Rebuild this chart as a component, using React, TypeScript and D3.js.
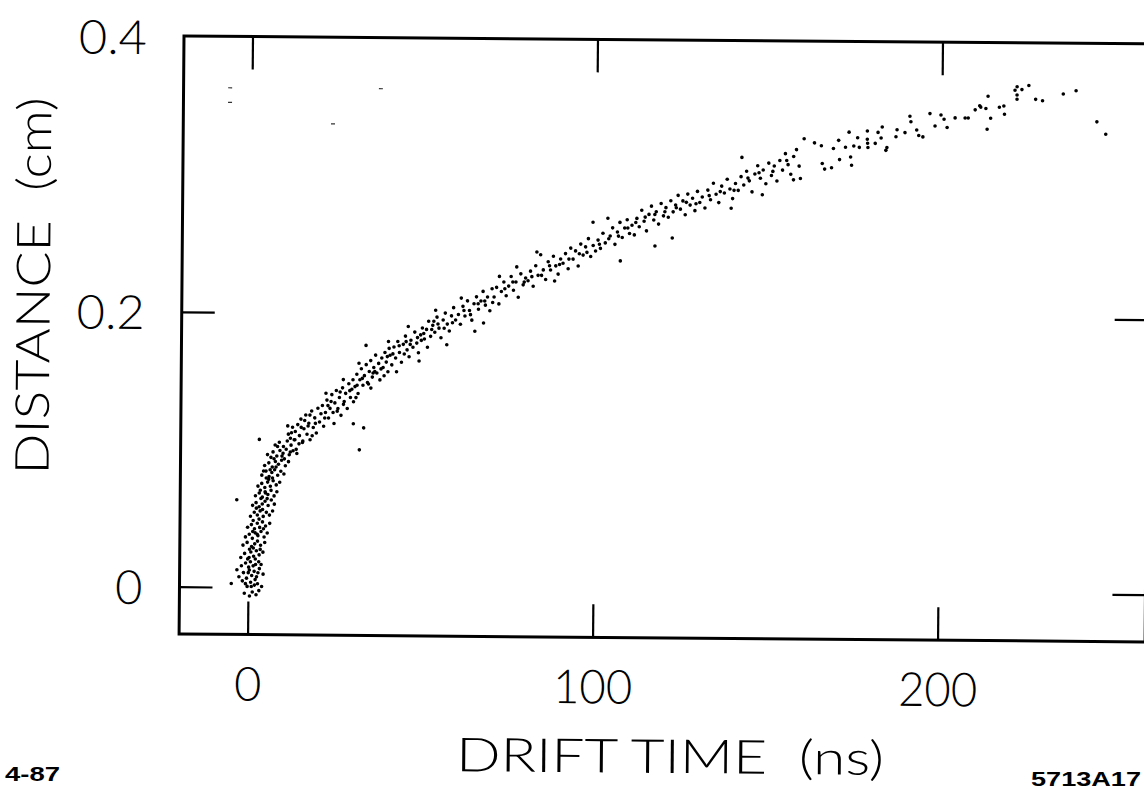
import React from "react";
import * as d3 from "d3";

// Axis ticks and labels
const xTicks = [0, 100, 200];
const xTickLabels = ["0", "100", "200"];
const yTicks = [0, 0.2, 0.4];
const yTickLabels = ["0", "0.2", "0.4"];

// [drift time (ns), distance (cm)] — steep rise near t = 0
const risePoints: [number, number][] = [
  [-1.2,-0.004],[0.3,-0.006],[1.1,-0.003],[2.2,-0.005],[3.0,-0.002],[-0.4,0.001],[1.7,0.002],[0.6,0.004],[2.6,0.003],[-1.8,0.005],[3.8,0.001],
  [-2.8,0.008],[-1.5,0.011],[-0.6,0.007],[0.2,0.013],[0.9,0.009],[1.6,0.012],[2.3,0.008],[3.1,0.014],[4.2,0.01],[-2.1,0.016],[-0.9,0.018],[0.5,0.019],[1.3,0.016],[2.0,0.017],[2.9,0.019],[3.6,0.017],[-3.4,0.013],[0.0,0.015],
  [-2.3,0.022],[-1.2,0.025],[-0.3,0.021],[0.6,0.026],[1.4,0.023],[2.2,0.027],[3.0,0.024],[4.1,0.026],[-1.7,0.031],[-0.5,0.033],[0.8,0.03],[1.7,0.032],[2.5,0.034],[3.4,0.031],[4.6,0.033],[0.2,0.028],[1.9,0.021],
  [-1.0,0.037],[0.1,0.039],[1.0,0.036],[1.8,0.04],[2.6,0.038],[3.5,0.041],[4.4,0.037],[5.3,0.04],[-0.4,0.044],[0.7,0.046],[1.6,0.043],[2.4,0.047],[3.1,0.044],[3.9,0.048],[4.8,0.045],[6.0,0.047],[1.2,0.049],[2.9,0.05],
  [0.4,0.052],[1.5,0.055],[2.4,0.053],[3.2,0.056],[4.1,0.052],[5.0,0.055],[5.9,0.053],[6.8,0.056],[1.0,0.06],[2.0,0.062],[2.9,0.059],[3.8,0.061],[4.6,0.063],[5.5,0.06],[6.4,0.064],[7.3,0.061],[3.4,0.065],
  [1.8,0.067],[2.9,0.069],[3.8,0.066],[4.6,0.07],[5.4,0.068],[6.3,0.071],[7.2,0.067],[8.0,0.07],[2.5,0.074],[3.6,0.076],[4.5,0.073],[5.3,0.077],[6.1,0.074],[6.9,0.078],[7.8,0.075],[8.8,0.077],[4.9,0.08],
  [3.6,0.082],[4.8,0.085],[5.7,0.081],[6.5,0.084],[7.3,0.086],[8.2,0.082],[9.1,0.085],[10.0,0.083],[4.4,0.089],[5.6,0.091],[6.6,0.088],[7.5,0.092],[8.4,0.09],[9.3,0.093],[10.4,0.089],[11.3,0.092],
  [5.2,0.097],[6.8,0.099],[7.9,0.096],[8.8,0.1],[9.7,0.098],[10.6,0.101],[11.5,0.097],[12.6,0.1],[13.7,0.098],[7.4,0.104],[8.6,0.106],[9.8,0.103],[10.9,0.107],[12.0,0.104],[13.1,0.108],[14.3,0.105],[15.4,0.107],
  [0.8,0.001],[1.9,0.006],[-0.9,0.003],[2.7,0.011],[0.1,0.022],[3.3,0.028],[1.1,0.041],[4.2,0.043],[2.1,0.058],[5.2,0.065],[3.2,0.071],[6.7,0.08],[4.1,0.085],[7.1,0.094],[9.4,0.096],[6.2,0.095],[8.1,0.103],[11.8,0.109],
  [3.9,0.057],[5.6,0.079],[2.4,0.039],[1.3,0.029],[-0.1,0.011],[4.7,0.069],[6.0,0.086],[7.7,0.088],[10.1,0.094],
];

// knee of the curve, 11 – 60 ns
const kneePoints: [number, number][] = [
  [11.2,0.112],[11.8,0.099],[12.4,0.117],[12.9,0.108],[13.5,0.101],[13.9,0.119],[14.4,0.111],[14.8,0.123],[15.3,0.106],[15.7,0.116],[16.2,0.126],[16.6,0.112],[17.1,0.12],[17.5,0.108],[17.9,0.129],[18.4,0.117],[18.8,0.124],[19.3,0.113],[19.7,0.131],[20.2,0.121],[20.6,0.127],[11.0,0.118],[13.2,0.114],[15.9,0.122],[18.1,0.111],
  [21.0,0.133],[21.4,0.118],[21.9,0.128],[22.3,0.137],[22.8,0.124],[23.2,0.131],[23.7,0.141],[24.1,0.128],[24.6,0.135],[25.0,0.144],[25.5,0.131],[25.9,0.139],[26.4,0.126],[26.8,0.146],[27.3,0.136],[27.7,0.142],[28.2,0.131],[28.6,0.149],[29.1,0.139],[29.5,0.145],[30.0,0.136],[22.0,0.142],[24.4,0.12],[27.0,0.152],[29.8,0.152],
  [30.4,0.147],[30.9,0.156],[31.3,0.142],[31.8,0.152],[32.2,0.16],[32.7,0.148],[33.1,0.155],[33.6,0.163],[34.0,0.15],[34.5,0.158],[34.9,0.166],[35.4,0.154],[35.8,0.161],[36.3,0.17],[36.7,0.157],[37.2,0.164],[37.6,0.152],[38.1,0.168],[38.5,0.161],[39.0,0.172],[39.4,0.165],[39.9,0.158],[31.5,0.164],[35.0,0.146],[38.8,0.155],
  [40.5,0.17],[41.0,0.163],[41.6,0.176],[42.1,0.168],[42.7,0.18],[43.2,0.172],[43.8,0.165],[44.3,0.178],[44.9,0.184],[45.4,0.174],[46.0,0.169],[46.5,0.181],[47.1,0.176],[47.6,0.187],[48.2,0.179],[48.7,0.172],[49.3,0.185],[49.8,0.19],[42.4,0.158],[45.7,0.191],[48.9,0.166],
  [50.4,0.182],[51.0,0.189],[51.6,0.195],[52.2,0.184],[52.8,0.192],[53.4,0.187],[54.0,0.198],[54.6,0.19],[55.2,0.183],[55.8,0.196],[56.4,0.201],[57.0,0.193],[57.6,0.188],[58.2,0.199],[58.8,0.205],[59.4,0.196],[51.3,0.176],[56.9,0.178],[53.6,0.203],
  [12.1,0.113],[14.9,0.117],[16.9,0.118],[19.0,0.12],[21.7,0.124],[23.5,0.136],[25.3,0.129],[27.1,0.134],[28.9,0.144],[30.7,0.139],[32.5,0.153],[34.3,0.149],[36.1,0.158],[37.9,0.16],[39.7,0.169],[41.3,0.171],[43.1,0.177],
  [44.6,0.171],[46.3,0.178],[48.4,0.183],[50.2,0.186],[52.5,0.189],[54.3,0.193],[56.1,0.19],[58.5,0.194],[17.4,0.126],[22.6,0.133],[26.1,0.143],[31.0,0.148],[35.6,0.157],[40.2,0.175],[45.1,0.18],[49.5,0.181],[53.1,0.195],
];

// middle of the curve, 60 – 158 ns
const middlePoints: [number, number][] = [
  [60.2,0.2],[60.8,0.193],[61.5,0.206],[62.1,0.199],[62.8,0.21],[63.4,0.203],[64.1,0.196],[64.7,0.208],[65.4,0.213],[66.0,0.204],[66.7,0.21],[67.3,0.217],[68.0,0.207],[68.6,0.213],[69.3,0.203],[69.9,0.219],[61.0,0.212],
  [70.5,0.213],[71.2,0.22],[71.9,0.208],[72.6,0.217],[73.3,0.224],[74.0,0.214],[74.7,0.221],[75.4,0.228],[76.1,0.218],[76.8,0.224],[77.5,0.213],[78.2,0.23],[78.9,0.222],[79.6,0.227],[72.0,0.228],[77.0,0.235],
  [80.3,0.225],[81.0,0.232],[81.8,0.221],[82.5,0.236],[83.2,0.229],[83.9,0.244],[84.7,0.233],[85.4,0.226],[86.1,0.239],[86.8,0.233],[87.6,0.243],[88.3,0.236],[89.0,0.23],[89.7,0.241],[82.8,0.246],[88.0,0.225],
  [90.4,0.238],[91.1,0.245],[91.9,0.234],[92.6,0.249],[93.3,0.241],[94.0,0.247],[94.8,0.236],[95.5,0.252],[96.2,0.244],[96.9,0.25],[97.7,0.256],[98.4,0.243],[99.1,0.251],[99.8,0.247],
  [100.5,0.255],[101.2,0.249],[101.9,0.26],[102.6,0.253],[103.3,0.271],[104.0,0.258],[104.7,0.264],[105.4,0.252],[106.1,0.261],[106.8,0.268],[107.5,0.257],[108.2,0.264],[108.9,0.27],[109.6,0.26],
  [110.3,0.266],[111.0,0.259],[111.7,0.271],[112.4,0.265],[113.1,0.277],[113.8,0.269],[114.5,0.262],[115.2,0.274],[115.9,0.28],[116.6,0.27],[117.3,0.276],[118.0,0.267],[118.7,0.282],[119.4,0.273],
  [120.1,0.279],[120.8,0.272],[121.5,0.284],[122.2,0.276],[122.9,0.281],[123.6,0.288],[124.3,0.278],[125.0,0.284],[125.7,0.274],[126.4,0.289],[127.1,0.281],[127.8,0.286],[128.5,0.277],[129.2,0.291],[129.9,0.283],
  [130.6,0.287],[131.4,0.279],[132.2,0.292],[133.0,0.285],[133.8,0.297],[134.6,0.289],[135.4,0.283],[136.2,0.295],[137.0,0.29],[137.8,0.3],[138.6,0.293],[139.4,0.286],[140.2,0.297],
  [141.0,0.292],[141.8,0.302],[142.6,0.296],[143.4,0.306],[144.2,0.299],[145.0,0.291],[145.8,0.304],[146.6,0.31],[147.4,0.301],[148.2,0.307],[149.0,0.297],[149.8,0.312],
  [150.6,0.303],[151.4,0.31],[152.2,0.299],[153.0,0.314],[153.8,0.307],[154.6,0.319],[155.4,0.311],[156.2,0.304],[157.0,0.317],[157.8,0.322],
  [61.8,0.203],[63.7,0.2],[65.9,0.208],[67.8,0.21],[70.1,0.209],[73.6,0.219],[75.9,0.224],[79.2,0.224],[81.4,0.228],[84.2,0.229],[86.5,0.236],[89.4,0.237],[92.1,0.241],[95.1,0.245],[97.3,0.246],[100.9,0.252],
  [103.6,0.256],[106.4,0.258],[109.1,0.264],[111.4,0.268],[114.1,0.272],[116.9,0.274],[119.8,0.276],[123.1,0.279],[126.0,0.283],[128.8,0.282],[132.6,0.288],[135.8,0.291],[139.8,0.292],[143.8,0.301],[147.0,0.305],[151.0,0.306],[155.0,0.314],
];

// upper end of the curve, 158 – 250 ns
const upperPoints: [number, number][] = [
  [158.6,0.31],[159,0.301],[160,0.33],[163,0.327],[165,0.325],[165.3,0.312],[168,0.309],[168.5,0.323],[170,0.329],[170.3,0.315],[172,0.324],[173,0.335],[173.5,0.317],[173.8,0.311],[174.4,0.325],[175.5,0.331],[176,0.324],
  [178.3,0.336],[178.3,0.33],[178.4,0.327],[178.5,0.324],[180.6,0.327],[181.4,0.335],[182.6,0.339],[182.3,0.331],[183.7,0.322],[184,0.324],[186.6,0.332],[186.9,0.337],[189.2,0.335],[190.6,0.347],[190.9,0.343],
  [192.6,0.337],[193.2,0.333],[194.4,0.332],[196.4,0.349],[197.9,0.34],[199.6,0.348],[201.4,0.339],[200.5,0.345],[203.7,0.346],[206.6,0.346],[207.5,0.346],[209.5,0.352],[210.8,0.355],[211.1,0.354],[212.6,0.353],
  [213.2,0.362],[214,0.346],[216.5,0.354],[217.8,0.355],[218,0.349],[221,0.3665],[221.6,0.369],[221.6,0.363],[221.6,0.36],[223,0.367],[225,0.37],[227,0.36],[229,0.359],[235,0.364],[238.7,0.3665],
];

// isolated points away from the band
const outlierPoints: [number, number][] = [
  [-5,0.003],[-3.6,0.064],[2.8,0.108],[30,0.12],[33,0.117],[31.8,0.101],[33.5,0.177],[40,0.18],
  [65,0.188],[67.5,0.194],[99,0.268],[107,0.24],[117,0.251],[122,0.257],[139,0.279],[142,0.316],[148,0.289],[157,0.3],[166,0.308],
  [213,0.338],[244.8,0.344],[247.4,0.335],
];

// faint specks from the original print
const specks: [number, number][] = [[-6.5,0.3636],[-6.5,0.353],[37.2,0.3638],[23.4,0.338]];

const FONT = "Lato, 'Open Sans', 'DejaVu Sans', sans-serif";
const SMALL_FONT = "'Liberation Sans', Arial, sans-serif";
const NB = "\u00a0";

export default function App() {
  const W = 1144, H = 789;
  const x = d3.scaleLinear().domain([-20, 260]).range([184, 1150]);
  const y = d3.scaleLinear().domain([-0.034, 0.401]).range([634, 36]);
  const [x0, x1] = x.range();
  const [yb, yt] = y.range();
  const tick = 33;
  const all = [...risePoints, ...kneePoints, ...middlePoints, ...upperPoints, ...outlierPoints];

  return (
    <svg width={W} height={H} viewBox={`0 0 ${W} ${H}`}
      style={{ position: "absolute", left: 0, top: 0, display: "block", background: "#fff" }}>
      <rect width={W} height={H} fill="#fff" />
      <g transform="rotate(0.47 186 36)">
        {/* frame */}
        <rect x={x0} y={yt} width={x1 - x0} height={yb - yt} fill="none" stroke="#000" strokeWidth={3} />
        {xTicks.map((t) => (
          <g key={"xt" + t}>
            <line x1={x(t)} x2={x(t)} y1={yb} y2={yb - tick} stroke="#000" strokeWidth={2.2} />
            <line x1={x(t)} x2={x(t)} y1={yt} y2={yt + tick} stroke="#000" strokeWidth={2.2} />
          </g>
        ))}
        {yTicks.slice(0, 2).map((v) => (
          <g key={"yt" + v}>
            <line x1={x0} x2={x0 + tick} y1={y(v)} y2={y(v)} stroke="#000" strokeWidth={2.2} />
            <line x1={x1} x2={x1 - tick} y1={y(v)} y2={y(v)} stroke="#000" strokeWidth={2.2} />
          </g>
        ))}
        {/* points */}
        {all.map(([t, d], i) => (
          <circle key={i} cx={x(t)} cy={y(d)} r={1.8} fill="#000" />
        ))}
        {specks.map(([t, d], i) => (
          <rect key={"s" + i} x={x(t) - 2} y={y(d) - 0.6} width={4} height={1.2} fill="#333" />
        ))}
        {/* tick labels */}
        {yTicks.map((v, i) => (
          <text key={"yl" + v} x={147} y={y(v) + 17} textAnchor="end" fontFamily={FONT} fontWeight={300}
            fontSize={47} fill="#000"
            {...(yTickLabels[i].length > 1 ? { textLength: 68, lengthAdjust: "spacingAndGlyphs" } : {})}>
            {yTickLabels[i]}
          </text>
        ))}
        {xTicks.map((t, i) => (
          <text key={"xl" + t} x={x(t)} y={700} textAnchor="middle" fontFamily={FONT} fontWeight={300}
            fontSize={47} fill="#000"
            {...(xTickLabels[i].length > 1 ? { textLength: 79, lengthAdjust: "spacingAndGlyphs" } : {})}>
            {xTickLabels[i]}
          </text>
        ))}
        {/* axis titles */}
        <text x={676} y={769} textAnchor="middle" fontFamily={FONT} fontWeight={300} fontSize={47}
          textLength={428} lengthAdjust="spacingAndGlyphs" fill="#000">
          {`DRIFT TIME${NB}${NB}(ns)`}
        </text>
        <text transform="translate(52 287) rotate(-90)" textAnchor="middle" fontFamily={FONT} fontWeight={300}
          fontSize={47} textLength={377} lengthAdjust="spacingAndGlyphs" fill="#000">
          {`DISTANCE${NB}${NB}(cm)`}
        </text>
      </g>
      <text x={5} y={781} fontFamily={SMALL_FONT} fontWeight={700} fontSize={20} fill="#000"
        textLength={55} lengthAdjust="spacingAndGlyphs">4-87</text>
      <text x={1031} y={786} fontFamily={SMALL_FONT} fontWeight={700} fontSize={20} fill="#000"
        textLength={110} lengthAdjust="spacingAndGlyphs">5713A17</text>
    </svg>
  );
}
